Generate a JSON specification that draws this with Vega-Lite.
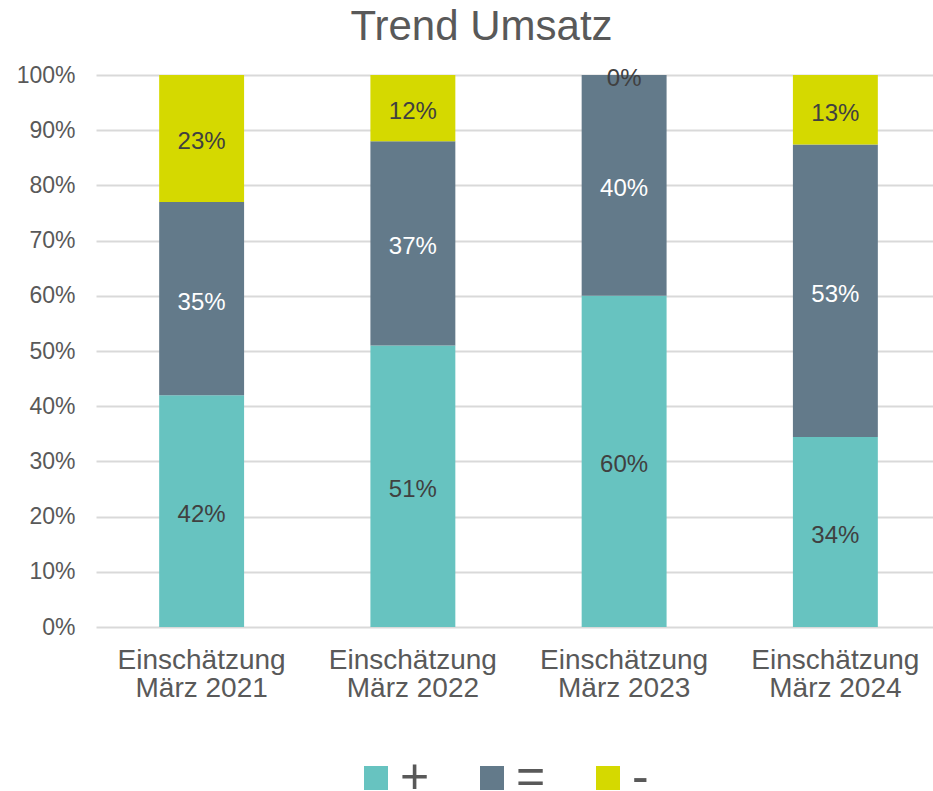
{
  "$schema": "https://vega.github.io/schema/vega-lite/v6.json",
  "width": 845,
  "height": 552,
  "autosize": {"type": "none"},
  "padding": {"left": 96, "top": 75, "right": 0, "bottom": 164},
  "background": "white",
  "config": {
    "view": {"stroke": null},
    "font": "Liberation Sans",
    "legend": {"padding": 0}
  },
  "title": {
    "text": "Trend Umsatz",
    "fontSize": 42,
    "fontWeight": "normal",
    "color": "#595959",
    "anchor": "middle",
    "dx": -37,
    "offset": 15
  },
  "data": {
    "values": [
      {"period": "Einschätzung|März 2021", "series": "+", "order": 1, "value": 0.42},
      {"period": "Einschätzung|März 2021", "series": "=", "order": 2, "value": 0.35},
      {"period": "Einschätzung|März 2021", "series": "-", "order": 3, "value": 0.23},
      {"period": "Einschätzung|März 2022", "series": "+", "order": 1, "value": 0.51},
      {"period": "Einschätzung|März 2022", "series": "=", "order": 2, "value": 0.37},
      {"period": "Einschätzung|März 2022", "series": "-", "order": 3, "value": 0.12},
      {"period": "Einschätzung|März 2023", "series": "+", "order": 1, "value": 0.60},
      {"period": "Einschätzung|März 2023", "series": "=", "order": 2, "value": 0.40},
      {"period": "Einschätzung|März 2023", "series": "-", "order": 3, "value": 0.0},
      {"period": "Einschätzung|März 2024", "series": "+", "order": 1, "value": 0.344},
      {"period": "Einschätzung|März 2024", "series": "=", "order": 2, "value": 0.53},
      {"period": "Einschätzung|März 2024", "series": "-", "order": 3, "value": 0.126}
    ]
  },
  "transform": [
    {"stack": "value", "groupby": ["period"], "sort": [{"field": "order", "order": "ascending"}], "as": ["v0", "v1"]},
    {"calculate": "(datum.v0 + datum.v1) / 2", "as": "mid"}
  ],
  "encoding": {
    "x": {
      "field": "period",
      "type": "nominal",
      "sort": null,
      "scale": {"paddingInner": 0.598, "paddingOuter": 0.299},
      "axis": {
        "title": null,
        "domain": false,
        "ticks": false,
        "labelAngle": 0,
        "labelFontSize": 28,
        "labelColor": "#595959",
        "labelPadding": 19,
        "labelLineHeight": 28,
        "labelExpr": "split(datum.label, '|')"
      }
    }
  },
  "layer": [
    {
      "mark": {"type": "bar"},
      "encoding": {
        "y": {
          "field": "v0",
          "type": "quantitative",
          "scale": {"domain": [0, 1], "nice": false},
          "axis": {
            "title": null,
            "format": ".0%",
            "values": [0, 0.1, 0.2, 0.3, 0.4, 0.5, 0.6, 0.7, 0.8, 0.9, 1],
            "grid": true,
            "gridColor": "#d9d9d9",
            "gridWidth": 2,
            "domain": false,
            "ticks": false,
            "labelFontSize": 23,
            "labelColor": "#595959",
            "labelPadding": 21
          }
        },
        "y2": {"field": "v1"},
        "color": {
          "field": "series",
          "type": "nominal",
          "scale": {"domain": ["+", "=", "-"], "range": ["#67C3C0", "#637A8A", "#D5D900"]},
          "legend": {
            "title": null,
            "orient": "none",
            "direction": "horizontal",
            "legendX": 255,
            "legendY": 678,
            "symbolType": "square",
            "symbolSize": 576,
            "symbolStrokeWidth": 0,
            "symbolOpacity": 1,
            "labelFontSize": 50,
            "labelColor": "#595959",
            "labelOffset": -1,
            "columnPadding": 37
          }
        }
      }
    },
    {
      "mark": {"type": "text", "fontSize": 24, "baseline": "middle", "align": "center", "dy": 4},
      "encoding": {
        "y": {"field": "mid", "type": "quantitative"},
        "text": {"field": "value", "type": "quantitative", "format": ".0%"},
        "color": {"condition": {"test": "datum.series === '='", "value": "#ffffff"}, "value": "#404040"}
      }
    }
  ]
}
